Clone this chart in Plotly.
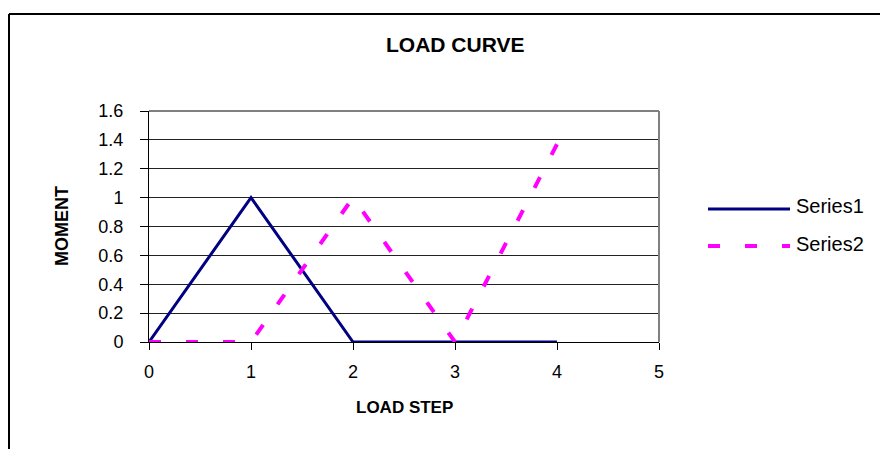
import plotly.graph_objects as go

load_step = [0, 1, 2, 3, 4]
series1 = [0, 1, 0, 0, 0]
series2 = [0, 0, 1, 0, 1.37]
series_names = ["Series1", "Series2"]
y_ticks = [0, 0.2, 0.4, 0.6, 0.8, 1, 1.2, 1.4, 1.6]
y_tick_text = ["0", "0.2", "0.4", "0.6", "0.8", "1", "1.2", "1.4", "1.6"]
x_ticks = [0, 1, 2, 3, 4, 5]

FONT = "Liberation Sans, Arial, sans-serif"
OFF = 8  # page body margin
W, H = 888 - OFF, 449 - OFF
# plot area in page pixels
L, R, T, B = 149, 659, 111, 342


def px(x):
    return (x - L) / (R - L)


def py(y):
    return (B - y) / (B - T)


fig = go.Figure()
fig.add_trace(go.Scatter(x=load_step, y=series1, mode="lines", name=series_names[0],
                         line=dict(color="#000080", width=3), showlegend=False))
fig.add_trace(go.Scatter(x=load_step, y=series2, mode="lines", name=series_names[1],
                         line=dict(color="#FF00FF", width=4, dash="12px,25px"), showlegend=False))

fig.update_layout(
    width=W, height=H,
    margin=dict(l=L - OFF, r=888 - R, t=T - OFF, b=449 - B),
    paper_bgcolor="white", plot_bgcolor="white",
    font=dict(family=FONT, size=18, color="black"),
    showlegend=False,
)
fig.update_xaxes(range=[0, 5], tickvals=x_ticks, ticktext=[str(v) for v in x_ticks],
                 showgrid=False, zeroline=False, showline=True, linecolor="black", linewidth=1,
                 ticks="outside", ticklen=7, tickcolor="black", ticklabelstandoff=6,
                 tickfont=dict(size=18))
fig.update_yaxes(range=[0, 1.6], tickvals=y_ticks, ticktext=y_tick_text,
                 showgrid=True, gridcolor="#222222", gridwidth=1, zeroline=False,
                 showline=True, linecolor="black", linewidth=1,
                 ticks="outside", ticklen=8, tickcolor="black", ticklabelstandoff=13,
                 tickfont=dict(size=18))

shapes = [
    dict(type="line", xref="paper", yref="paper", x0=0, x1=1, y0=1, y1=1,
         line=dict(color="#808080", width=2)),
    dict(type="line", xref="paper", yref="paper", x0=1, x1=1, y0=0, y1=1,
         line=dict(color="#808080", width=2)),
    dict(type="line", xref="paper", yref="paper", x0=px(9), x1=px(9), y0=py(14), y1=py(470),
         line=dict(color="black", width=2)),
    dict(type="line", xref="paper", yref="paper", x0=px(9), x1=px(900), y0=py(14), y1=py(14),
         line=dict(color="black", width=2)),
    dict(type="line", xref="paper", yref="paper", x0=px(708), x1=px(790), y0=py(209), y1=py(209),
         line=dict(color="#000080", width=3)),
    dict(type="line", xref="paper", yref="paper", x0=px(708), x1=px(790), y0=py(246), y1=py(246),
         line=dict(color="#FF00FF", width=4, dash="12px,25px")),
]
fig.update_layout(shapes=shapes)

annotations = [
    dict(text="<b>LOAD CURVE</b>", x=px(455), y=py(45), xref="paper", yref="paper",
         showarrow=False, xanchor="center", yanchor="middle", font=dict(size=21)),
    dict(text="<b>MOMENT</b>", x=px(62), y=py(226), xref="paper", yref="paper",
         showarrow=False, xanchor="center", yanchor="middle", textangle=-90, font=dict(size=18)),
    dict(text="<b>LOAD STEP</b>", x=px(404), y=py(408), xref="paper", yref="paper",
         showarrow=False, xanchor="center", yanchor="middle", font=dict(size=17)),
    dict(text=series_names[0], x=px(794), y=py(206), xref="paper", yref="paper",
         showarrow=False, xanchor="left", yanchor="middle", font=dict(size=20)),
    dict(text=series_names[1], x=px(794), y=py(244), xref="paper", yref="paper",
         showarrow=False, xanchor="left", yanchor="middle", font=dict(size=20)),
]
fig.update_layout(annotations=annotations)

fig.write_html("out.html")
